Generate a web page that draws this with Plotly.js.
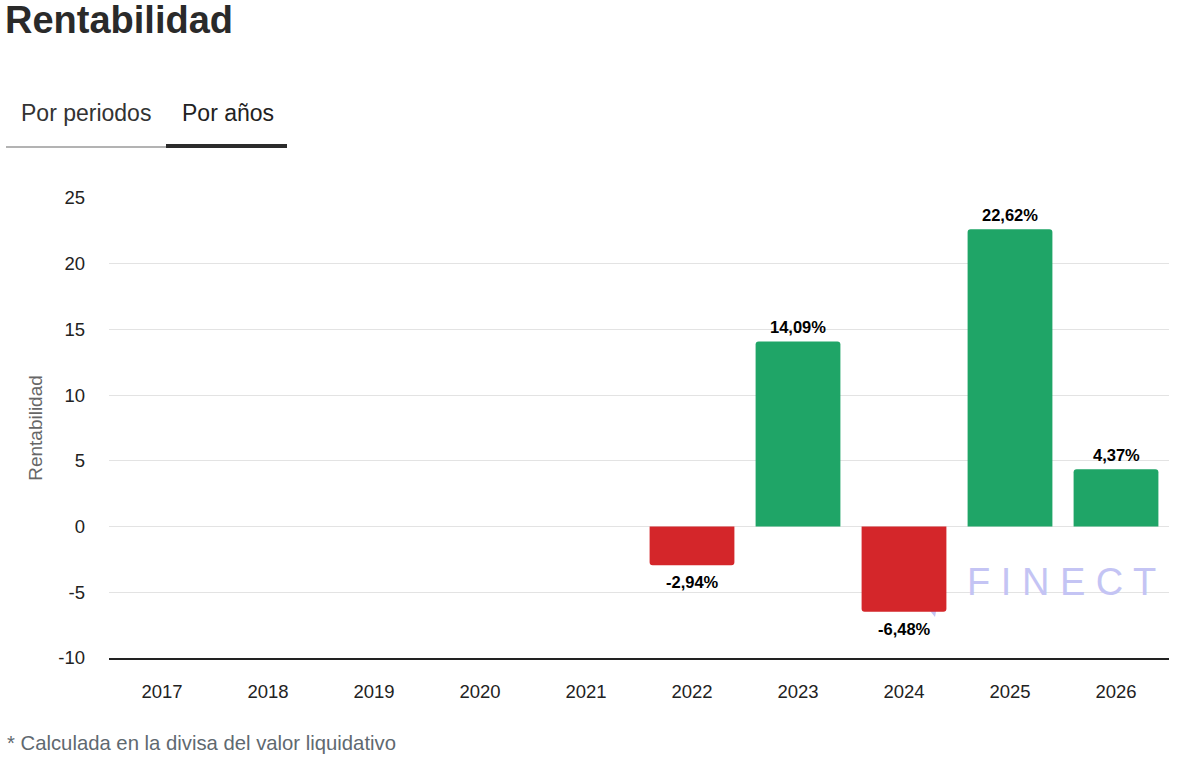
<!DOCTYPE html>
<html>
<head>
<meta charset="utf-8">
<script src="https://cdn.plot.ly/plotly-3.0.1.min.js"></script>
<style>
html,body{margin:0;padding:0;background:#fff;}
#chart{width:1200px;height:764px;}
</style>
</head>
<body>
<div id="chart"></div>
<script>
// ---- data ----
const years = ['2017','2018','2019','2020','2021','2022','2023','2024','2025','2026'];
const returns = [null, null, null, null, null, -2.94, 14.09, -6.48, 22.62, 4.37];
const returnLabels = ['', '', '', '', '', '-2,94%', '14,09%', '-6,48%', '22,62%', '4,37%'];
const yTicks = [-10, -5, 0, 5, 10, 15, 20, 25];

// ---- layout helpers (pixel -> paper) ----
const W = 1200, H = 764;
const M = {l: 109, r: 31, t: 198, b: 106};
const PW = W - M.l - M.r, PH = H - M.t - M.b;
const px = x => (x - M.l) / PW;
const py = y => (H - M.b - y) / PH;

const GREEN = '#1fa567', RED = '#d4262a';
const FONT = 'Liberation Sans, Arial, Helvetica, sans-serif';

const trace = {
  type: 'bar',
  x: years,
  y: returns,
  marker: {
    color: returns.map(v => (v !== null && v < 0) ? RED : GREEN),
    cornerradius: 3,
    line: {width: 0}
  },
  hoverinfo: 'skip'
};

// value labels, anchored to each bar's end (x = category index)
const valueAnnotations = years.map((yr, i) => returns[i] === null ? null : ({
  x: i, y: returns[i], xref: 'x', yref: 'y',
  text: '<b>' + returnLabels[i] + '</b>',
  showarrow: false,
  yanchor: 'middle',
  yshift: returns[i] >= 0 ? 14 : -17,
  font: {family: FONT, size: 16.5, color: '#000'}
})).filter(a => a);

const layout = {
  width: W, height: H,
  margin: M,
  paper_bgcolor: '#fff', plot_bgcolor: '#fff',
  font: {family: FONT, color: '#222'},
  showlegend: false,
  bargap: 0.2,
  hovermode: false,
  title: {
    text: '<b>Rentabilidad</b>',
    font: {family: FONT, size: 38, color: '#2a2a2a'},
    xref: 'container', yref: 'container',
    x: 5 / W, xanchor: 'left',
    y: 1 - 20 / H, yanchor: 'middle'
  },
  xaxis: {
    type: 'category',
    categoryorder: 'array', categoryarray: years,
    range: [-0.5, years.length - 0.5],
    showgrid: false,
    showline: true, linecolor: '#222', linewidth: 1.5,
    ticks: '', ticklabelstandoff: 16,
    tickfont: {family: FONT, size: 18.5, color: '#222'},
    fixedrange: true
  },
  yaxis: {
    range: [-10, 25],
    tickvals: yTicks,
    ticktext: yTicks.map(String),
    showgrid: true, gridcolor: '#e3e3e3', gridwidth: 1,
    zeroline: false, showline: false,
    ticks: '', ticklabelstandoff: 23,
    tickfont: {family: FONT, size: 18.5, color: '#222'},
    title: {text: 'Rentabilidad', font: {family: FONT, size: 19, color: '#666'}, standoff: 10},
    fixedrange: true
  },
  annotations: valueAnnotations.concat([
    {text: 'Por periodos', x: px(19), y: py(113), xref: 'paper', yref: 'paper',
     xanchor: 'left', yanchor: 'middle', showarrow: false,
     font: {family: FONT, size: 23, color: '#333'}},
    {text: 'Por años', x: px(180), y: py(113), xref: 'paper', yref: 'paper',
     xanchor: 'left', yanchor: 'middle', showarrow: false,
     font: {family: FONT, size: 23, color: '#222'}},
    {text: 'F I N E C T', x: px(1061), y: py(582), xref: 'paper', yref: 'paper',
     xanchor: 'center', yanchor: 'middle', showarrow: false,
     font: {family: FONT, size: 38, color: '#c4c4f4'}},
    {text: '* Calculada en la divisa del valor liquidativo', x: px(5), y: py(743),
     xref: 'paper', yref: 'paper', xanchor: 'left', yanchor: 'middle', showarrow: false,
     font: {family: FONT, size: 20.3, color: '#5f6970'}}
  ]),
  shapes: [
    {type: 'line', xref: 'paper', yref: 'paper', x0: px(6), x1: px(166), y0: py(147), y1: py(147),
     line: {color: '#9a9a9a', width: 1.5}},
    {type: 'line', xref: 'paper', yref: 'paper', x0: px(166), x1: px(287), y0: py(146), y1: py(146),
     line: {color: '#2b2b2b', width: 4}},
    {type: 'path', xref: 'paper', yref: 'paper',
     path: `M ${px(926)} ${py(606)} L ${px(937)} ${py(606)} L ${px(935)} ${py(617)} Z`,
     fillcolor: '#c4c4f4', line: {width: 0}, layer: 'below'}
  ]
};

Plotly.newPlot('chart', [trace], layout, {displayModeBar: false, staticPlot: true});
</script>
</body>
</html>
